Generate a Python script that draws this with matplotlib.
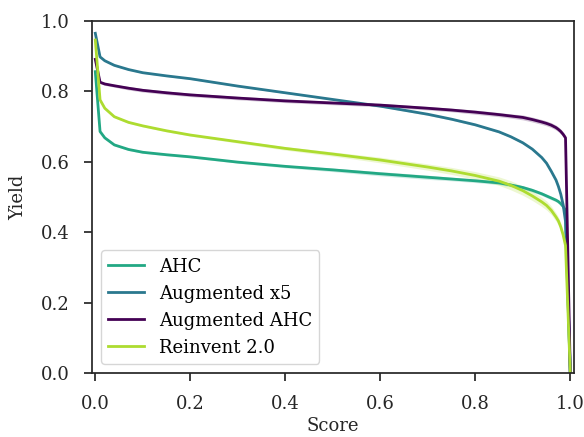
import matplotlib
matplotlib.use("Agg")
import matplotlib.pyplot as plt
import numpy as np

plt.rcParams['font.family'] = ['DejaVu Serif']

score = [0, 0.01, 0.02, 0.04, 0.07, 0.1, 0.15, 0.2, 0.3, 0.4, 0.5, 0.6,
         0.7, 0.75, 0.8, 0.85, 0.875, 0.9, 0.92, 0.94, 0.95, 0.96, 0.97,
         0.975, 0.98, 0.985, 0.99, 1.0]

ahc = [0.856, 0.686, 0.668, 0.648, 0.635, 0.627, 0.620, 0.614, 0.599, 0.587,
       0.577, 0.566, 0.556, 0.551, 0.546, 0.540, 0.534, 0.527, 0.519, 0.509,
       0.503, 0.497, 0.491, 0.487, 0.481, 0.473, 0.462, 0.0]
aug_x5 = [0.965, 0.898, 0.887, 0.874, 0.862, 0.853, 0.844, 0.836, 0.815, 0.796,
          0.777, 0.758, 0.735, 0.721, 0.705, 0.685, 0.671, 0.654, 0.636, 0.612,
          0.596, 0.573, 0.548, 0.530, 0.508, 0.478, 0.430, 0.0]
aug_ahc = [0.891, 0.826, 0.821, 0.816, 0.809, 0.803, 0.796, 0.790, 0.781, 0.773,
           0.767, 0.761, 0.752, 0.747, 0.741, 0.734, 0.730, 0.726, 0.720, 0.713,
           0.709, 0.704, 0.697, 0.692, 0.686, 0.678, 0.668, 0.0]
reinvent = [0.946, 0.776, 0.752, 0.728, 0.712, 0.702, 0.688, 0.676, 0.657, 0.638,
            0.622, 0.605, 0.585, 0.574, 0.561, 0.545, 0.533, 0.518, 0.503, 0.486,
            0.476, 0.462, 0.443, 0.432, 0.415, 0.392, 0.362, 0.0]

# spread across seeds (half-width of the shaded band)
ahc_sd = [0.003, 0.003, 0.003, 0.003, 0.003, 0.003, 0.003, 0.003, 0.003, 0.004,
          0.005, 0.006, 0.006, 0.005, 0.005, 0.005, 0.005, 0.005, 0.005, 0.005,
          0.005, 0.005, 0.005, 0.005, 0.005, 0.005, 0.005, 0.0]
aug_x5_sd = [0.002, 0.002, 0.002, 0.002, 0.002, 0.002, 0.002, 0.002, 0.002, 0.002,
             0.002, 0.002, 0.003, 0.003, 0.003, 0.003, 0.003, 0.003, 0.003, 0.003,
             0.003, 0.003, 0.003, 0.003, 0.003, 0.003, 0.003, 0.0]
aug_ahc_sd = [0.004, 0.004, 0.004, 0.004, 0.005, 0.005, 0.005, 0.005, 0.005, 0.005,
              0.005, 0.005, 0.005, 0.005, 0.006, 0.006, 0.006, 0.007, 0.007, 0.007,
              0.007, 0.007, 0.007, 0.007, 0.007, 0.007, 0.007, 0.0]
reinvent_sd = [0.003, 0.003, 0.003, 0.003, 0.003, 0.003, 0.003, 0.003, 0.004, 0.005,
               0.006, 0.008, 0.009, 0.010, 0.011, 0.012, 0.013, 0.013, 0.013, 0.013,
               0.013, 0.012, 0.012, 0.011, 0.011, 0.010, 0.009, 0.0]

runs = [
    ("AHC", ahc, ahc_sd, "#22a884"),
    ("Augmented x5", aug_x5, aug_x5_sd, "#2a788e"),
    ("Augmented AHC", aug_ahc, aug_ahc_sd, "#440154"),
    ("Reinvent 2.0", reinvent, reinvent_sd, "#addc30"),
]

fig = plt.figure(figsize=(5.84, 4.37), dpi=100)
ax = fig.add_axes([0.1575, 0.1465, 0.8255, 0.8055])

x = np.array(score)
for name, y, sd, col in runs:
    y = np.array(y)
    sd = np.array(sd)
    ax.fill_between(x, y - sd, y + sd, color=col, alpha=0.22, lw=0)
    ax.plot(x, y, color=col, lw=2, label=name)

ax.set_xlim(-0.007, 1.008)
ax.set_ylim(0, 1.0)
ax.set_xticks([0, 0.2, 0.4, 0.6, 0.8, 1.0])
ax.set_yticks([0, 0.2, 0.4, 0.6, 0.8, 1.0])
ax.tick_params(labelsize=13, length=6, width=1.25, pad=10,
               color='.15', labelcolor='.15')
for s in ax.spines.values():
    s.set_linewidth(1.25)
    s.set_color('.15')

ax.set_xlabel("Score", fontsize=13, color='.15', labelpad=3)
ax.set_ylabel("Yield", fontsize=13, color='.15', labelpad=10)
ax.legend(loc='lower left', fontsize=13, handlelength=2.0)

fig.savefig("out.png", dpi=100)
